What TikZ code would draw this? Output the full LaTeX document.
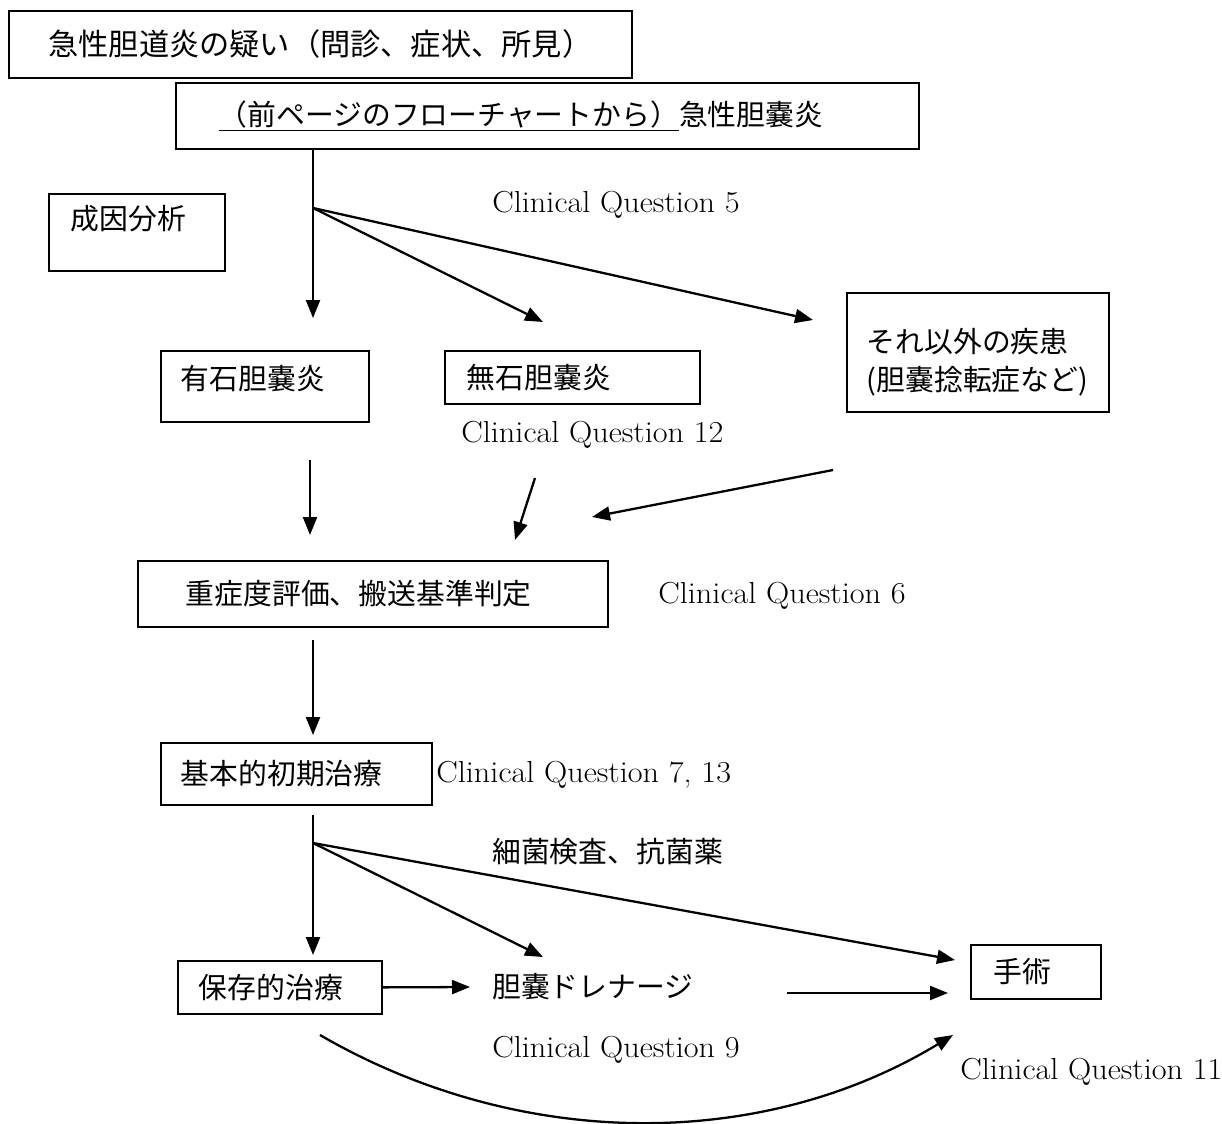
\documentclass[tikz,border=0pt]{standalone}
\usepackage{fontspec}
\newfontfamily\jp{Noto Sans CJK JP}
\newfontfamily\cqfont{Latin Modern Roman}[FakeStretch=1.06]
\usetikzlibrary{arrows.meta, positioning}
\tikzset{
	>={Triangle[length=0.36cm, width=0.28cm]},
	box/.style = {draw, line width=1pt, anchor=north west, align=left, inner ysep=0pt, font=\jp\fontsize{16.4}{21.5}\selectfont},
	jtext/.style = {anchor=west, inner sep=0pt, font=\jp\fontsize{16.4}{20}\selectfont},
	cq/.style = {anchor=west, inner sep=0pt, font=\cqfont\fontsize{17.3}{20}\selectfont},
	link/.style = {line width=1.2pt},
	arr/.style = {->, line width=1.3pt}
}
\begin{document}
\begin{tikzpicture}[x=0.02cm, y=-0.02cm]
	\useasboundingbox (0,0) rectangle (1222,1124);
	
	% boxes
	\node[box, align=center, inner xsep=0pt, text width=12.46cm, minimum height=1.34cm, font=\jp\fontsize{17.2}{21}\selectfont] (susp) at (8,10) {急性胆道炎の疑い（問診、症状、所見）};
	\node[box, inner xsep=0.86cm, text width=13.14cm, minimum height=1.32cm] (prev) at (175,82) {\underline{（前ページのフローチャートから）}急性胆嚢炎};
	\node[box, inner xsep=0.44cm, text width=2.64cm, minimum height=1.54cm, text depth=0.6cm] (cause) at (48,193) {成因分析};
	\node[box, inner xsep=0.4cm, text width=3.36cm, minimum height=1.42cm, text depth=0.35cm] (stone) at (160,350) {有石胆嚢炎};
	\node[box, inner xsep=0.44cm, text width=4.22cm, minimum height=1.06cm] (nostone) at (444,350) {無石胆嚢炎};
	\node[box, inner xsep=0.4cm, text width=4.44cm, minimum height=2.38cm, text depth=0.47cm] (other) at (846,292) {それ以外の疾患\\(胆嚢捻転症など)};
	\node[box, inner xsep=0.96cm, text width=7.48cm, minimum height=1.32cm] (sev) at (137,560) {重症度評価、搬送基準判定};
	\node[box, inner xsep=0.4cm, text width=4.62cm, minimum height=1.24cm] (basic) at (160,742) {基本的初期治療};
	\node[box, inner xsep=0.42cm, text width=3.24cm, minimum height=1.06cm] (cons) at (177,960) {保存的治療};
	\node[box, inner xsep=0.46cm, text width=1.68cm, minimum height=1.08cm] (surg) at (970,944) {手術};
	\node[jtext, inner xsep=0.44cm] (drain) at (470,987) {胆嚢ドレナージ};
	
	% labels
	\node[cq] (cq5) at (492,205) {Clinical Question 5};
	\node[cq] (cq12) at (461,435) {Clinical Question 12};
	\node[cq] (cq6) at (658,596) {Clinical Question 6};
	\node[cq] (cq7) at (436,775) {Clinical Question 7, 13};
	\node[jtext] (germ) at (492,852) {細菌検査、抗菌薬};
	\node[cq] (cq9) at (492,1050) {Clinical Question 9};
	\node[cq] (cq11) at (960,1072) {Clinical Question 11};
	
	% connector ends
	\coordinate (b1) at (313,208);
	\coordinate (stone-in) at (313,318);
	\coordinate (nostone-in) at (543,322);
	\coordinate (other-in) at (813,320);
	\coordinate (stone-out) at (310,460);
	\coordinate (nostone-out) at (535,478);
	\coordinate (other-out) at (833,470);
	\coordinate (sev-in1) at (310,535);
	\coordinate (sev-in2) at (515,540);
	\coordinate (sev-in3) at (592,517);
	\coordinate (sev-out) at (313,640);
	\coordinate (basic-in) at (313,735);
	\coordinate (basic-out) at (313,815);
	\coordinate (b2) at (313,843);
	\coordinate (cons-in) at (313,955);
	\coordinate (drain-in) at (543,957);
	\coordinate (surg-in1) at (955,960);
	\coordinate (drain-out) at (787,993);
	\coordinate (surg-in2) at (948,993);
	\coordinate (cons-low) at (320,1035);
	\coordinate (surg-in3) at (953,1035);
	
	% arrows
	\draw[arr] (prev.south -| b1) -- (stone-in);
	\draw[arr] (b1) -- (nostone-in);
	\draw[arr] (b1) -- (other-in);
	\draw[arr] (stone-out) -- (sev-in1);
	\draw[arr] (nostone-out) -- (sev-in2);
	\draw[arr] (other-out) -- (sev-in3);
	\draw[arr] (sev-out) -- (basic-in);
	\draw[arr] (basic-out) -- (cons-in);
	\draw[arr] (b2) -- (drain-in);
	\draw[arr] (b2) -- (surg-in1);
	\draw[arr] (cons.east) -- (drain.west);
	\draw[arr] (drain-out) -- (surg-in2);
	\draw[arr] (cons-low) .. controls (520,1151) and (762,1151) .. (surg-in3);
\end{tikzpicture}
\end{document}
